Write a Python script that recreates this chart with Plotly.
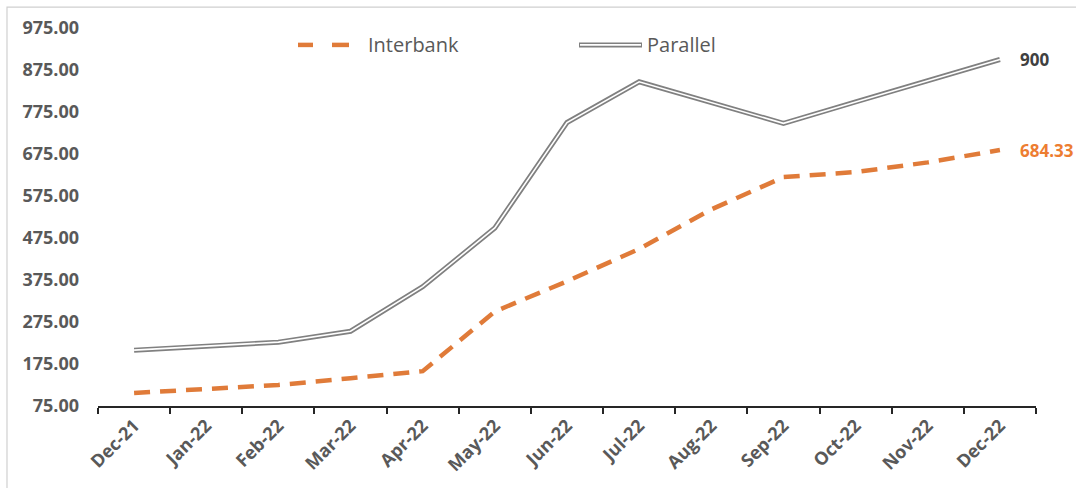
import plotly.graph_objects as go

categories = ["Dec-21", "Jan-22", "Feb-22", "Mar-22", "Apr-22", "May-22", "Jun-22",
              "Jul-22", "Aug-22", "Sep-22", "Oct-22", "Nov-22", "Dec-22"]
interbank = [106, 116, 125, 141, 158, 300, 372, 449, 543, 620, 632, 655, 684.33]
parallel = [208, 217, 227, 253, 359, 499, 750, 847, 797, 748, 799, 850, 900]
y_ticks = [75, 175, 275, 375, 475, 575, 675, 775, 875, 975]

ORANGE = "#E07B39"
GREY = "#808080"
TEXT = "#595959"

# plot area in pixels (for paper-coordinate decorations)
L, R, T, B = 98, 1036, 28, 408
W, H = 1076, 488


def px(x):
    return (x - L) / (R - L)


def py(y):
    return (B - y) / (B - T)


fig = go.Figure()

fig.add_trace(go.Scatter(x=categories, y=parallel, mode="lines",
                         line=dict(color=GREY, width=5), showlegend=False,
                         hoverinfo="skip"))
fig.add_trace(go.Scatter(x=categories, y=parallel, mode="lines", name="Parallel",
                         line=dict(color="white", width=1.6), showlegend=False))
fig.add_trace(go.Scatter(x=categories, y=interbank, mode="lines", name="Interbank",
                         line=dict(color=ORANGE, width=4.5, dash="16px,10px"),
                         showlegend=False))

# end labels
fig.add_annotation(x=categories[-1], y=parallel[-1], text=f"<b>{parallel[-1]:g}</b>",
                   showarrow=False, xanchor="left", xshift=18,
                   font=dict(family="Open Sans", size=17, color="#404040"))
fig.add_annotation(x=categories[-1], y=interbank[-1], text=f"<b>{interbank[-1]:.2f}</b>",
                   showarrow=False, xanchor="left", xshift=18,
                   font=dict(family="Open Sans", size=17, color="#ED7D31"))

shapes = []
# outer frame
shapes.append(dict(type="rect", xref="paper", yref="paper",
                   x0=px(7), x1=px(1090), y0=py(7), y1=py(500),
                   line=dict(color="#D0D0D0", width=1.2), fillcolor="rgba(0,0,0,0)",
                   layer="below"))
# legend symbols
ly = py(45)
shapes.append(dict(type="line", xref="paper", yref="paper", x0=px(298), x1=px(313),
                   y0=ly, y1=ly, line=dict(color=ORANGE, width=4.5)))
shapes.append(dict(type="line", xref="paper", yref="paper", x0=px(332), x1=px(349),
                   y0=ly, y1=ly, line=dict(color=ORANGE, width=4.5)))
shapes.append(dict(type="line", xref="paper", yref="paper", x0=px(579), x1=px(642),
                   y0=ly, y1=ly, line=dict(color=GREY, width=5)))
shapes.append(dict(type="line", xref="paper", yref="paper", x0=px(580), x1=px(641),
                   y0=ly, y1=ly, line=dict(color="white", width=1.6)))

fig.add_annotation(xref="paper", yref="paper", x=px(366), y=ly, text="Interbank",
                   showarrow=False, xanchor="left", yanchor="middle",
                   font=dict(family="Open Sans", size=20, color=TEXT))
fig.add_annotation(xref="paper", yref="paper", x=px(645), y=ly, text="Parallel",
                   showarrow=False, xanchor="left", yanchor="middle",
                   font=dict(family="Open Sans", size=20, color=TEXT))

fig.update_layout(
    width=W, height=H,
    margin=dict(l=L, r=W - R, t=T, b=H - B),
    paper_bgcolor="white", plot_bgcolor="white",
    shapes=shapes,
    showlegend=False,
    xaxis=dict(type="category", categoryorder="array", categoryarray=categories,
               range=[-0.5, len(categories) - 0.5],
               showgrid=False, showline=True, linecolor="#262626", linewidth=2,
               ticks="outside", tickson="boundaries", ticklen=6, tickwidth=2,
               tickcolor="#262626", tickangle=-45,
               tickfont=dict(family="Open Sans", size=18, color=TEXT, weight="bold"),
               zeroline=False, fixedrange=True),
    yaxis=dict(range=[75, 975], tickvals=y_ticks,
               ticktext=[f"{v:.2f}" for v in y_ticks],
               showgrid=False, showline=False, zeroline=False, ticks="",
               ticklabelstandoff=18,
               tickfont=dict(family="Open Sans", size=18, color=TEXT, weight="bold"),
               fixedrange=True),
)

fig.write_html("out.html", config={"displayModeBar": False},
               post_script="document.body.style.margin='0';document.body.style.overflow='hidden';")
